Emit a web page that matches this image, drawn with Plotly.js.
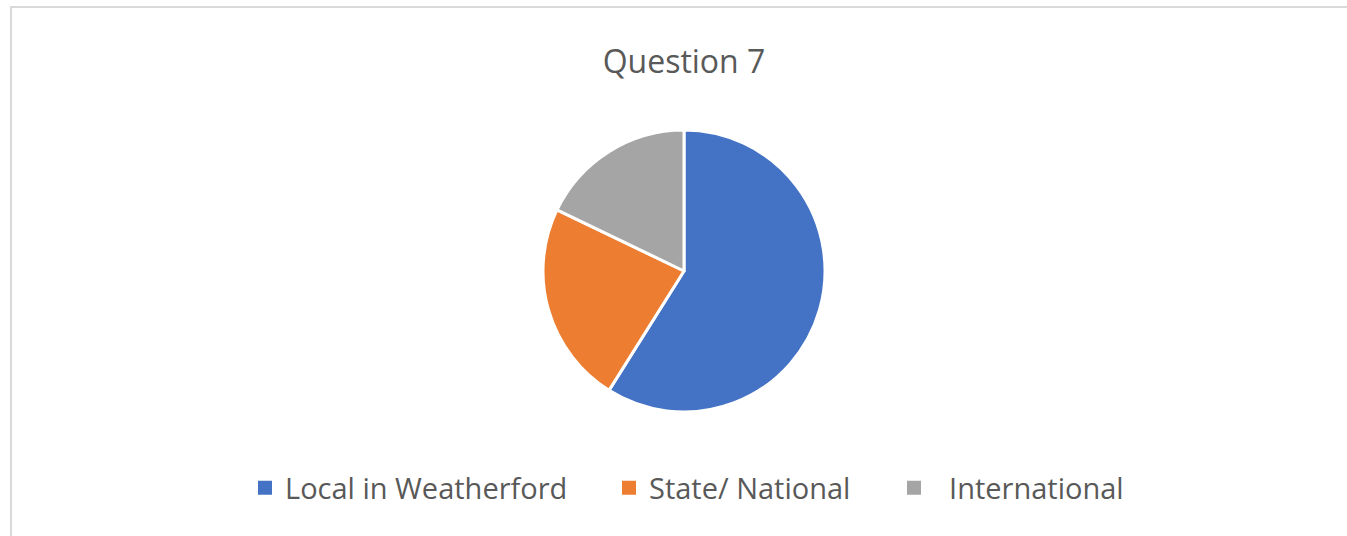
<!DOCTYPE html>
<html>
<head>
<meta charset="utf-8">
<script src="https://cdn.plot.ly/plotly-3.0.1.min.js"></script>
<style>
html,body{margin:0;padding:0;background:#fff;overflow:hidden;}
#chart{width:1347px;height:536px;position:absolute;left:0;top:0;}
#frame{position:absolute;left:10px;top:6px;width:1400px;height:600px;border-left:2px solid #d9d9d9;border-top:2px solid #d9d9d9;pointer-events:none;}
</style>
</head>
<body>
<div id="chart"></div>
<div id="frame"></div>
<script>
const categories = ["Local in Weatherford", "State/ National", " International"];
const values = [33, 13, 10];
const colors = ["#4472C4", "#ED7D31", "#A5A5A5"];
const chartTitle = "Question 7";

const W = 1347, H = 536;
const cx = 684, cy = 271, r = 141;
const FONT = "'Open Sans', 'Noto Sans', sans-serif";

const pie = {
  type: "pie",
  labels: categories,
  values: values,
  sort: false,
  direction: "clockwise",
  rotation: 0,
  textinfo: "none",
  showlegend: false,
  marker: {colors: colors, line: {color: "#ffffff", width: 3}},
  domain: {x: [(cx - r) / W, (cx + r) / W], y: [1 - (cy + r) / H, 1 - (cy - r) / H]}
};

// legend entries (one per category), each in its own legend box
const legendKeys = ["legend", "legend2", "legend3"];
const legendEntries = categories.map((c, i) => ({
  type: "scatter", mode: "markers", x: [null], y: [null],
  name: c.replace(/^ /, "\u00a0\u00a0"), legend: legendKeys[i], hoverinfo: "skip",
  marker: {symbol: "square", size: 14, color: colors[i]}
}));

const symbolCenters = [265, 629, 914];
const legendFont = {size: 29, color: "#595959", family: FONT};
const layout = {
  width: W, height: H,
  margin: {l: 0, r: 0, t: 0, b: 0},
  paper_bgcolor: "#ffffff",
  plot_bgcolor: "rgba(0,0,0,0)",
  font: {family: FONT, color: "#595959"},
  xaxis: {visible: false, domain: [0, 0.01]},
  yaxis: {visible: false, domain: [0, 0.01]},
  title: {text: chartTitle, x: 684 / W, xanchor: "center", y: 1 - 62 / H, yanchor: "middle",
          font: {size: 32, color: "#595959", family: FONT}},
  showlegend: true
};
legendKeys.forEach((k, i) => {
  layout[k] = {orientation: "h", x: (symbolCenters[i] - 20) / W, xanchor: "left",
               y: 1 - 488 / H, yanchor: "middle", font: legendFont,
               bgcolor: "rgba(0,0,0,0)", borderwidth: 0};
});

Plotly.newPlot("chart", [pie].concat(legendEntries), layout, {displayModeBar: false, staticPlot: true});
</script>
</body>
</html>
